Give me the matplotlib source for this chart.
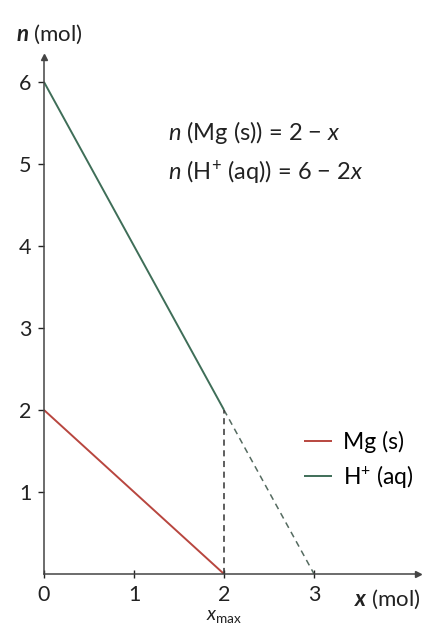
import matplotlib.pyplot as plt

plt.rcParams["font.family"] = ["Lato", "DejaVu Sans"]
plt.rcParams["mathtext.fontset"] = "custom"
plt.rcParams["mathtext.rm"] = "Lato"
plt.rcParams["mathtext.it"] = "Lato:italic"
plt.rcParams["mathtext.bf"] = "Lato:bold:italic"

# data
x_mg = [0, 2]
n_mg = [2, 0]
x_h = [0, 2]
n_h = [6, 2]
x_h_dash = [2, 3]
n_h_dash = [2, 0]
x_max = 2
x_ticks = [0, 1, 2, 3]
y_ticks = [1, 2, 3, 4, 5, 6]

red = "#b8463f"
green = "#3f6e58"
axis_col = "#444444"
txt = "#222222"

fig = plt.figure(figsize=(4.27, 6.25), dpi=100)
ax = fig.add_axes([0.103, 0.0816, 0.875, 0.8266])
ax.set_xlim(0, 4.15)
ax.set_ylim(0, 6.3)

ax.plot(x_mg, n_mg, color=red, lw=1.4, label="Mg (s)", solid_capstyle="butt")
ax.plot(x_h, n_h, color=green, lw=1.4, label="H$^{+}$ (aq)", solid_capstyle="butt")
ax.plot(x_h_dash, n_h_dash, color="#556b60", lw=1.1, ls=(0, (4, 3)))
ax.plot([x_max, x_max], [0, n_h[-1]], color="#333333", lw=1.1, ls=(0, (4, 3)))

for s in ["top", "right"]:
    ax.spines[s].set_visible(False)
for s in ["left", "bottom"]:
    ax.spines[s].set_color(axis_col)
    ax.spines[s].set_linewidth(1.1)
ax.plot(1, 0, ">", color=axis_col, ms=5, transform=ax.transAxes, clip_on=False)
ax.plot(0, 1, "^", color=axis_col, ms=5, transform=ax.transAxes, clip_on=False)

ax.set_xticks(x_ticks)
ax.set_yticks(y_ticks)
ax.tick_params(axis="both", labelsize=15.5, colors=txt, length=4, width=1, pad=5)
ax.tick_params(axis="x", direction="inout", length=6)
ax.tick_params(axis="y", direction="out")

ax.text(-0.075, 1.045, r"$\mathbf{n}$ (mol)", transform=ax.transAxes,
        fontsize=16, color=txt, ha="left", va="center")
ax.text(0.83, -0.05, r"$\mathbf{x}$ (mol)", transform=ax.transAxes,
        fontsize=16, color=txt, ha="left", va="center")
ax.text(x_max, -0.098, r"$x_{\rm max}$", transform=ax.get_xaxis_transform(),
        fontsize=14, color=txt, ha="center", va="bottom")

ax.text(1.38, 5.38, r"$n$ (Mg (s)) = 2 $-$ $x$", fontsize=17, color=txt,
        va="center")
ax.text(1.38, 4.9, r"$n$ (H$^{+}$ (aq)) = 6 $-$ 2$x$", fontsize=17, color=txt,
        va="center")

ax.legend(loc="upper left", bbox_to_anchor=(0.666, 0.3), frameon=False,
          fontsize=16.5, handlelength=1.2, handletextpad=0.5, labelspacing=0.45,
          borderpad=0)

fig.savefig("out.png", dpi=100)
